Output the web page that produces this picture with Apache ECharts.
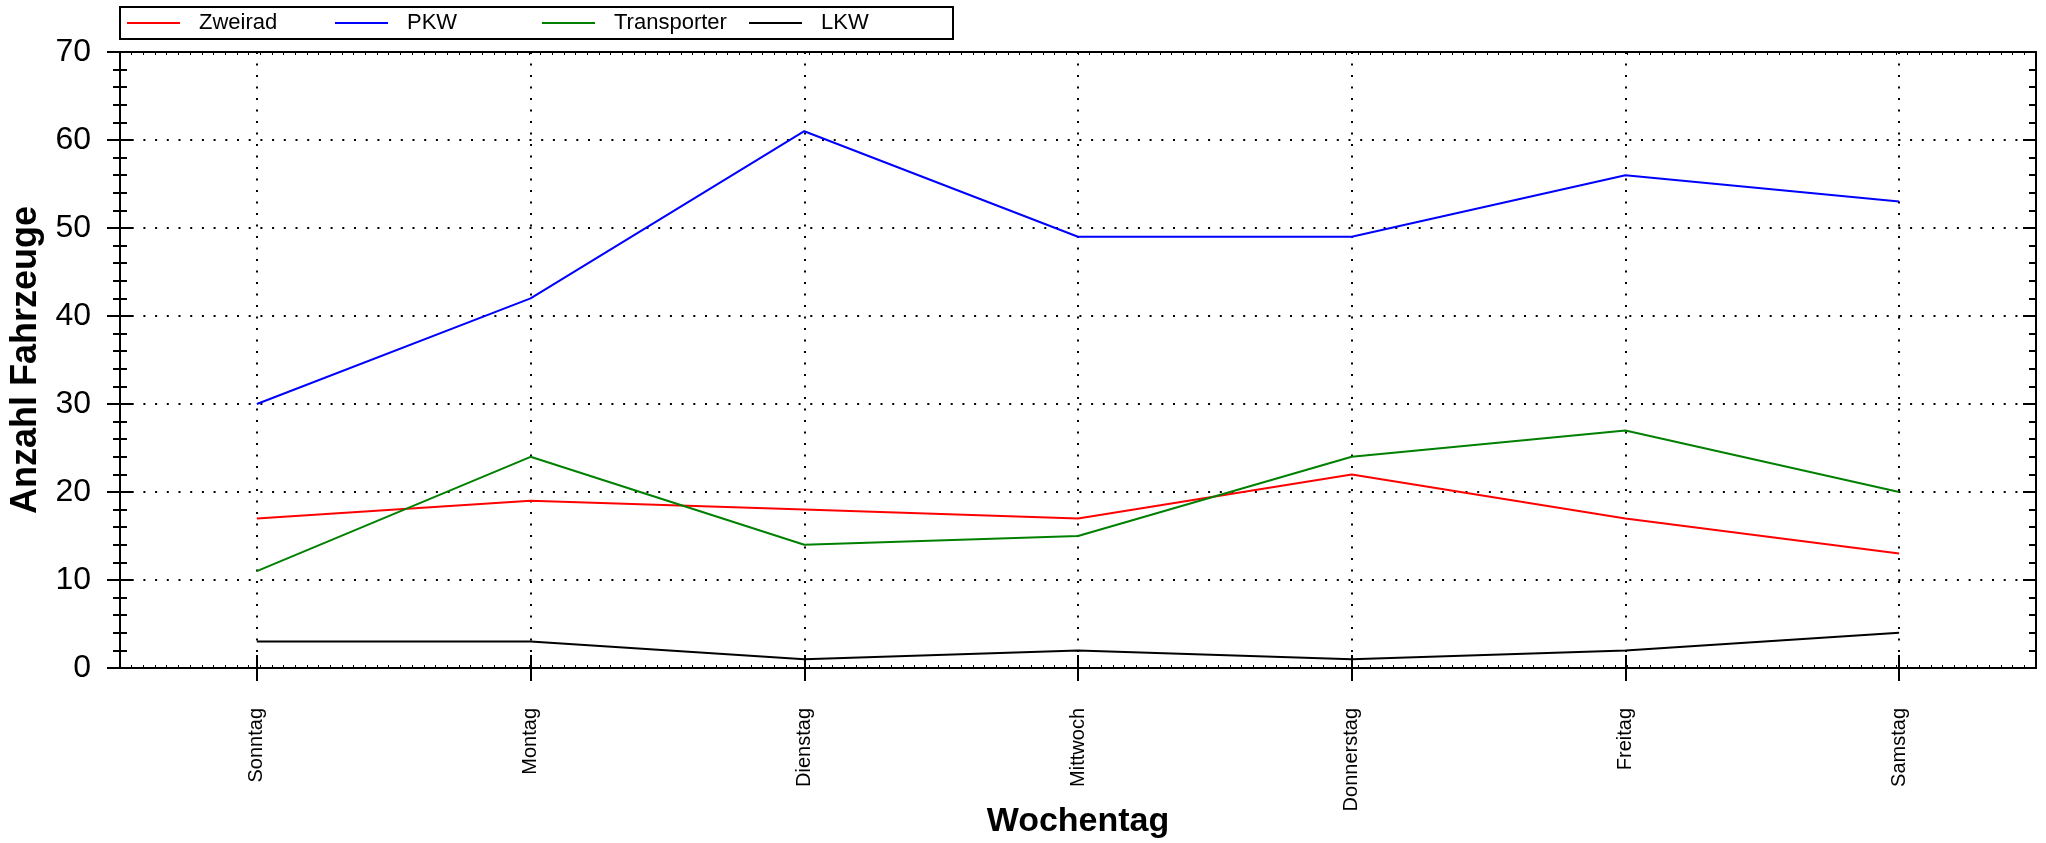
<!DOCTYPE html>
<html>
<head>
<meta charset="utf-8">
<script src="https://cdn.jsdelivr.net/npm/echarts@6/dist/echarts.min.js"></script>
<style>
html,body{margin:0;padding:0;background:#fff;}
#chart{width:2046px;height:843px;}
</style>
</head>
<body>
<div id="chart"></div>
<script>
const days = ['Sonntag','Montag','Dienstag','Mittwoch','Donnerstag','Freitag','Samstag'];
const zweirad = [17,19,18,17,22,17,13];
const pkw = [30,42,61,49,49,56,53];
const transporter = [11,24,14,15,24,27,20];
const lkw = [3,3,1,2,1,2,4];
const seriesNames = ['Zweirad','PKW','Transporter','LKW'];
const seriesColors = ['#ff0000','#0000ff','#008000','#000000'];
const yTitle = 'Anzahl Fahrzeuge';
const xTitle = 'Wochentag';

const FONT = '"Liberation Sans", Arial, sans-serif';
const chart = echarts.init(document.getElementById('chart'));
const values = [zweirad, pkw, transporter, lkw];
const legendLefts = [127, 335, 542, 749];

const option = {
  backgroundColor: '#ffffff',
  animation: false,
  textStyle: {fontFamily: FONT, color: '#000'},
  grid: {left: 120, right: 10, top: 52, bottom: 175, containLabel: false, outerBoundsMode: 'none'},
  graphic: [{
    type: 'rect', z: 10,
    shape: {x: 120, y: 7, width: 833, height: 32},
    style: {fill: 'none', stroke: '#000', lineWidth: 2}
  }],
  legend: seriesNames.map((n, i) => ({
    data: [n], left: legendLefts[i], top: 12, padding: 0,
    icon: 'rect', itemWidth: 53, itemHeight: 2,
    textStyle: {fontFamily: FONT, fontSize: 22, color: '#000', padding: [0,0,0,14]}
  })),
  xAxis: [
    {
      type: 'category', data: days, boundaryGap: true, position: 'bottom',
      name: xTitle, nameLocation: 'middle', nameGap: 137, nameMoveOverlap: false,
      nameTextStyle: {fontFamily: FONT, fontSize: 34, fontWeight: 'bold', color: '#000'},
      axisLine: {show: true, lineStyle: {color: '#000', width: 2}},
      axisTick: {show: true, alignWithLabel: true, length: 13, lineStyle: {color: '#000', width: 2}},
      axisLabel: {rotate: 90, margin: 40, fontFamily: FONT, fontSize: 20, color: '#000'},
      splitLine: {show: true, alignWithLabel: true, lineStyle: {color: '#000', width: 2, type: [2, 9.5]}}
    },
    {
      type: 'category', data: days, boundaryGap: true, position: 'bottom',
      axisLine: {show: false},
      axisTick: {show: true, inside: true, alignWithLabel: true, length: 13, lineStyle: {color: '#000', width: 2}},
      axisLabel: {show: false}, splitLine: {show: false}
    },
    {
      type: 'value', min: 0, max: 164, interval: 1, position: 'bottom',
      axisLine: {show: true, lineStyle: {color: '#000', width: 2}},
      axisTick: {show: true, inside: true, length: 3, lineStyle: {color: '#000', width: 1}},
      axisLabel: {show: false}, splitLine: {show: false}
    },
    {
      type: 'value', min: 0, max: 164, interval: 1, position: 'top',
      axisLine: {show: true, lineStyle: {color: '#000', width: 2}},
      axisTick: {show: true, inside: true, length: 3, lineStyle: {color: '#000', width: 1}},
      axisLabel: {show: false}, splitLine: {show: false}
    }
  ],
  yAxis: [
    {
      type: 'value', min: 0, max: 70, interval: 10, position: 'left',
      name: yTitle, nameLocation: 'middle', nameGap: 76, nameRotate: 90, nameMoveOverlap: false,
      nameTextStyle: {fontFamily: FONT, fontSize: 36, fontWeight: 'bold', color: '#000'},
      axisLine: {show: true, lineStyle: {color: '#000', width: 2}},
      axisTick: {show: true, length: 13, lineStyle: {color: '#000', width: 2}},
      minorTick: {show: true, splitNumber: 5, length: 7, lineStyle: {color: '#000', width: 2}},
      axisLabel: {margin: 29, fontFamily: FONT, fontSize: 32, color: '#000'},
      splitLine: {show: true, lineStyle: {color: '#000', width: 2, type: [2, 9.7]}}
    },
    {
      type: 'value', min: 0, max: 70, interval: 10, position: 'left',
      axisLine: {show: false},
      axisTick: {show: true, inside: true, length: 13, lineStyle: {color: '#000', width: 2}},
      minorTick: {show: true, splitNumber: 5, length: 7, lineStyle: {color: '#000', width: 2}},
      axisLabel: {show: false}, splitLine: {show: false}
    },
    {
      type: 'value', min: 0, max: 70, interval: 10, position: 'right',
      axisLine: {show: true, lineStyle: {color: '#000', width: 2}},
      axisTick: {show: true, inside: true, length: 13, lineStyle: {color: '#000', width: 2}},
      minorTick: {show: true, splitNumber: 5, length: 7, lineStyle: {color: '#000', width: 2}},
      axisLabel: {show: false}, splitLine: {show: false}
    }
  ],
  series: seriesNames.map((n, i) => ({
    name: n, type: 'line', data: values[i], xAxisIndex: 0, yAxisIndex: 0,
    symbol: 'none', showSymbol: false,
    lineStyle: {color: seriesColors[i], width: 2},
    itemStyle: {color: seriesColors[i]},
    z: 5
  }))
};
chart.setOption(option);
</script>
</body>
</html>
